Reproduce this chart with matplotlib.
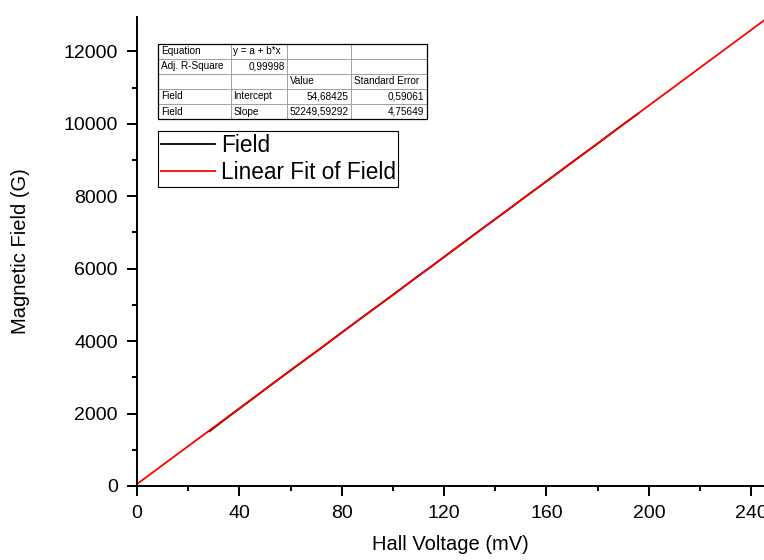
import matplotlib
matplotlib.use("Agg")
import matplotlib.pyplot as plt
from matplotlib.ticker import MultipleLocator

plt.rcParams['font.family'] = ['Liberation Sans', 'DejaVu Sans']

# measured data (Hall voltage in mV, field in G)
hall_mv = [28.3, 35.6, 44.9, 53.1, 62.4, 71.8, 80.2, 89.6, 98.7, 107.9,
           116.4, 125.8, 134.9, 143.2, 152.6, 161.7, 170.3, 179.8, 188.4, 195.9]
field_g = [1510, 1905, 2395, 2832, 3318, 3801, 4248, 4740, 5208, 5696,
           6133, 6630, 7108, 7535, 8031, 8500, 8956, 9445, 9903, 10288]

# linear fit result (slope in G/V)
intercept = 54.68425
slope = 52249.59292
fit_x = [0, 260]

table_rows = [
    ["Equation", "y = a + b*x", "", ""],
    ["Adj. R-Square", "0,99998", "", ""],
    ["", "", "Value", "Standard Error"],
    ["Field", "Intercept", "54,68425", "0,59061"],
    ["Field", "Slope", "52249,59292", "4,75649"],
]
table_align = [
    ["left", "left", "left", "left"],
    ["left", "right", "left", "left"],
    ["left", "left", "left", "left"],
    ["left", "left", "right", "right"],
    ["left", "left", "right", "right"],
]

fig = plt.figure(figsize=(7.64, 5.6), dpi=100)
ax = fig.add_axes([137 / 764, 1 - 486 / 560, 627 / 764, 469 / 560])

ax.plot(hall_mv, field_g, color="black", lw=1.3, label="Field")
ax.plot(fit_x, [intercept + slope * v / 1000 for v in fit_x], color="red",
        lw=1.3, label="Linear Fit of Field")

ax.set_xlim(0, 245)
ax.set_ylim(0, 12950)
ax.xaxis.set_major_locator(MultipleLocator(40))
ax.xaxis.set_minor_locator(MultipleLocator(20))
ax.yaxis.set_major_locator(MultipleLocator(2000))
ax.yaxis.set_minor_locator(MultipleLocator(1000))
ax.tick_params(which="major", direction="out", length=7.2, width=1.4,
               labelsize=14, pad=6.5)
ax.tick_params(which="minor", direction="out", length=3.6, width=1.4)
for s in ["top", "right"]:
    ax.spines[s].set_visible(False)
for s in ["left", "bottom"]:
    ax.spines[s].set_linewidth(1.4)

ax.set_xlabel("Hall Voltage (mV)", fontsize=14.5)
ax.set_ylabel("Magnetic Field (G)", fontsize=14.5)
ax.xaxis.set_label_coords(0.5, -0.105)
ax.yaxis.set_label_coords(-0.171, 0.5)

leg = ax.legend(loc="upper left", bbox_to_anchor=(0.0335, 0.757), fontsize=16.3,
                frameon=True, fancybox=False, framealpha=1, edgecolor="black",
                handlelength=2.4, handletextpad=0.25, borderpad=0.12,
                labelspacing=0.2, borderaxespad=0)
leg.get_frame().set_linewidth(0.8)

tbl = ax.table(cellText=table_rows, bbox=[0.0335, 0.7825, 0.429, 0.16],
               colWidths=[73, 56, 64, 76])
tbl.auto_set_font_size(False)
for (r, c), cell in tbl.get_celld().items():
    cell.set_fontsize(7.2)
    cell.set_edgecolor("#999999")
    cell.set_linewidth(0.6)
    cell.get_text().set_horizontalalignment(table_align[r][c])
    cell.PAD = 0.04
ax.add_patch(plt.Rectangle((0.0335, 0.7825), 0.429, 0.16, transform=ax.transAxes,
                           fill=False, edgecolor="black", lw=0.9, zorder=10))

fig.savefig("out.png", dpi=100)
